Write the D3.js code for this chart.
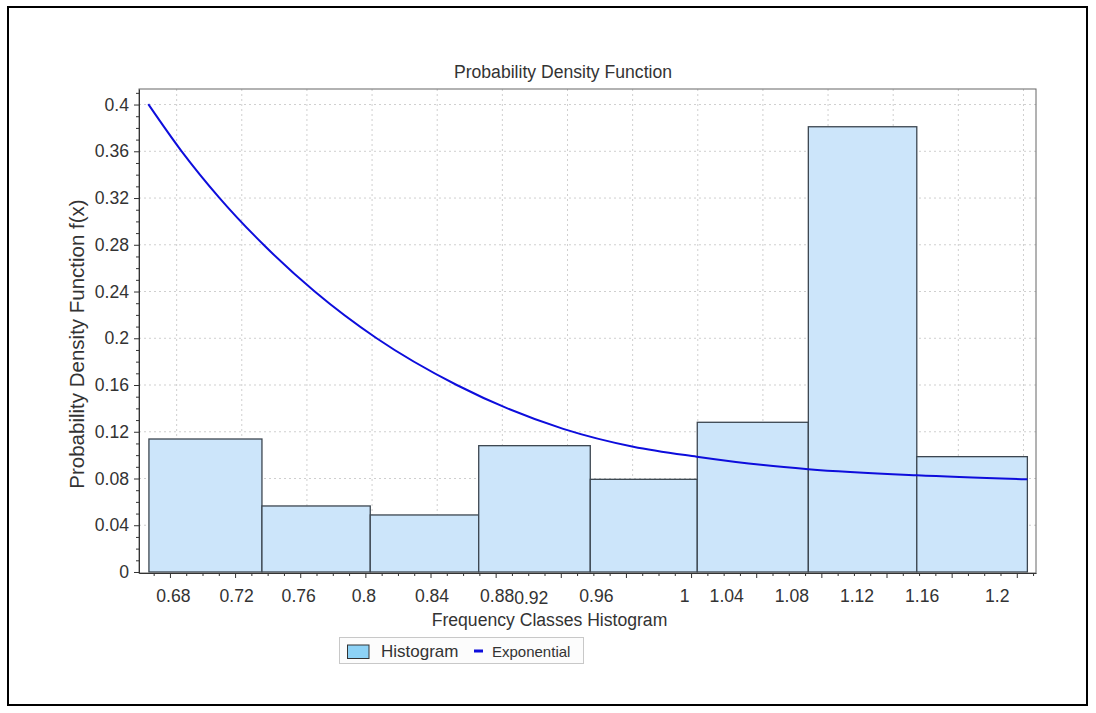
<!DOCTYPE html>
<html>
<head>
<meta charset="utf-8">
<script src="https://cdn.jsdelivr.net/npm/d3@7"></script>
<style>
  body { margin: 0; background: #fff; }
  svg { display: block; font-family: "Liberation Sans", Arial, sans-serif; }
  .grid line { stroke: #cfcfcf; stroke-dasharray: 2,3; }
  .axis path, .axis line { stroke: #333; }
  .axis text { fill: #333; font-size: 17.6px; }
</style>
</head>
<body>
<svg width="1096" height="713"></svg>
<script>
// histogram bins (edges) and their densities
let binEdges = [0.6671, 0.7365, 0.8030, 0.8696, 0.9381, 1.0038, 1.0720, 1.1386, 1.2065]
let density = [0.1138, 0.0565, 0.0488, 0.1081, 0.0793, 0.1281, 0.3810, 0.0987]

// fitted exponential curve
let curveX = [0.6667, 0.6872, 0.7105, 0.7375, 0.7689, 0.8069, 0.8561, 0.9215, 0.9645, 1.0035, 1.0444, 1.0720, 1.1386, 1.2065]
let curveY = [0.4004, 0.3600, 0.3200, 0.2800, 0.2400, 0.2000, 0.1600, 0.1225, 0.1072, 0.0987, 0.0915, 0.0880, 0.0827, 0.0793]

let xTicks = [0.68, 0.72, 0.76, 0.8, 0.84, 0.88, 0.92, 0.96, 1.0, 1.04, 1.08, 1.12, 1.16, 1.2]
let xTickLabels = ['0.68', '0.72', '0.76', '0.8', '0.84', '0.88', '0.92', '0.96', '1', '1.04', '1.08', '1.12', '1.16', '1.2']
let yTicks = [0, 0.04, 0.08, 0.12, 0.16, 0.2, 0.24, 0.28, 0.32, 0.36, 0.4]
let yTickLabels = ['0', '0.04', '0.08', '0.12', '0.16', '0.2', '0.24', '0.28', '0.32', '0.36', '0.4']

// the original renderer shifts some x labels sideways
let xLabelShift = [3, 1, -2, -2, 1, 1, -30, -30, -7, -30, -30, -30, -30, -20]

let plotLeft = 139, plotRight = 1036, plotTop = 89, plotBottom = 573

var svg = d3.select('svg')

let x = d3.scaleLinear().domain([0.661, 1.2118]).range([plotLeft, plotRight])
let y = d3.scaleLinear().domain([-0.00086, 0.4133]).range([plotBottom, plotTop])

// outer frame
svg.append('rect')
  .attr('x', 8).attr('y', 7).attr('width', 1079).attr('height', 698)
  .attr('fill', 'none').attr('stroke', '#000').attr('stroke-width', 2)

// grid
let grid = svg.append('g').attr('class', 'grid')
grid.selectAll('.v')
  .data(xTicks)
  .enter()
  .append('line')
  .attr('x1', d => x(d) + 6.7).attr('x2', d => x(d) + 6.7)
  .attr('y1', plotTop).attr('y2', plotBottom)
grid.selectAll('.h')
  .data(yTicks.slice(1))
  .enter()
  .append('line')
  .attr('x1', plotLeft).attr('x2', plotRight)
  .attr('y1', d => y(d)).attr('y2', d => y(d))

// bars
svg.append('g')
  .selectAll('rect')
  .data(density)
  .enter()
  .append('rect')
  .attr('x', (d, i) => x(binEdges[i]))
  .attr('width', (d, i) => x(binEdges[i + 1]) - x(binEdges[i]))
  .attr('y', d => y(d))
  .attr('height', d => y(0) - y(d))
  .attr('fill', '#cce5fa')
  .attr('stroke', '#3c4650')
  .attr('stroke-width', 1.3)

// curve
let line = d3.line()
  .x((d, i) => x(curveX[i]))
  .y(d => y(d))
  .curve(d3.curveMonotoneX)
svg.append('path')
  .attr('d', line(curveY))
  .attr('fill', 'none')
  .attr('stroke', '#0d0ddc')
  .attr('stroke-width', 2)

// plot frame
svg.append('rect')
  .attr('x', plotLeft).attr('y', plotTop).attr('width', plotRight - plotLeft).attr('height', plotBottom - plotTop)
  .attr('fill', 'none').attr('stroke', '#666').attr('stroke-width', 1)

// minor ticks
let xMinor = d3.range(67, 122).map(v => v / 100).filter(v => !xTicks.some(t => Math.abs(t - v) < 1e-6))
let yMinor = d3.range(0, 42).map(v => v / 100).filter(v => !yTicks.some(t => Math.abs(t - v) < 1e-6))

svg.append('g')
  .attr('class', 'axis')
  .attr('transform', `translate(0,${plotBottom})`)
  .call(d3.axisBottom(x).tickValues(xMinor).tickSize(3).tickFormat(''))
  .call(g => g.select('.domain').remove())
svg.append('g')
  .attr('class', 'axis')
  .attr('transform', `translate(${plotLeft},0)`)
  .call(d3.axisLeft(y).tickValues(yMinor).tickSize(3).tickFormat(''))
  .call(g => g.select('.domain').remove())

// major axes
let xAxis = svg.append('g')
  .attr('class', 'axis')
  .attr('transform', `translate(0,${plotBottom})`)
  .call(d3.axisBottom(x).tickValues(xTicks).tickSize(5).tickSizeOuter(0).tickPadding(11)
    .tickFormat((d, i) => xTickLabels[i]))
xAxis.selectAll('.tick text')
  .attr('dx', (d, i) => xLabelShift[i])
  .attr('dy', (d, i) => xTickLabels[i] === '0.92' ? '0.88em' : '0.76em')

svg.append('g')
  .attr('class', 'axis')
  .attr('transform', `translate(${plotLeft},0)`)
  .call(d3.axisLeft(y).tickValues(yTicks).tickSize(5).tickSizeOuter(0).tickPadding(5)
    .tickFormat((d, i) => yTickLabels[i]))

// titles
svg.append('text')
  .attr('x', 563).attr('y', 78)
  .attr('text-anchor', 'middle')
  .attr('font-size', 17.6).attr('fill', '#333')
  .text('Probability Density Function')

svg.append('text')
  .attr('x', 549.5).attr('y', 626)
  .attr('text-anchor', 'middle')
  .attr('font-size', 17.6).attr('fill', '#333')
  .text('Frequency Classes Histogram')

svg.append('text')
  .attr('transform', 'translate(84,344) rotate(-90)')
  .attr('text-anchor', 'middle')
  .attr('font-size', 20.5).attr('fill', '#333')
  .text('Probability Density Function f(x)')

// legend
let legend = svg.append('g')
legend.append('rect')
  .attr('x', 339.5).attr('y', 637.5).attr('width', 244).attr('height', 26)
  .attr('fill', '#fcfcfc').attr('stroke', '#c8c8c8')
legend.append('rect')
  .attr('x', 347.5).attr('y', 645).attr('width', 21.5).attr('height', 13.5)
  .attr('fill', '#8dd2f6').attr('stroke', '#333')
legend.append('text')
  .attr('x', 381).attr('y', 656.5)
  .attr('font-size', 17).attr('fill', '#333')
  .text('Histogram')
legend.append('line')
  .attr('x1', 474).attr('x2', 483).attr('y1', 651).attr('y2', 651)
  .attr('stroke', '#0d0ddc').attr('stroke-width', 3)
legend.append('text')
  .attr('x', 492).attr('y', 656.5)
  .attr('font-size', 15).attr('fill', '#333')
  .text('Exponential')
</script>
</body>
</html>
